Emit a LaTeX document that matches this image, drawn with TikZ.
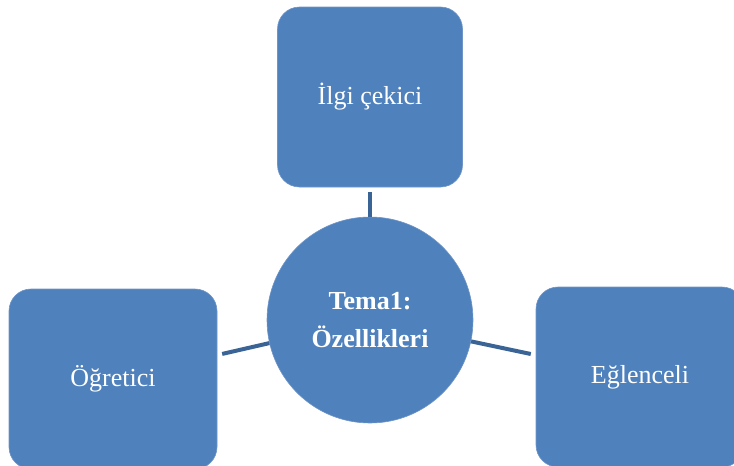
\documentclass[tikz,border=0pt]{standalone}
\usepackage{fontspec}
\setmainfont{Liberation Serif}
\definecolor{boxblue}{HTML}{4F81BD}
\definecolor{boxedge}{HTML}{6F95C8}
\definecolor{linkblue}{HTML}{3B6496}
\begin{document}
\begin{tikzpicture}[x=1pt,y=-1pt,
  item/.style={rectangle,rounded corners=22pt,fill=boxblue,draw=boxedge,line width=0.6pt,
    text=white,minimum height=180pt,inner sep=0pt,font=\fontsize{26}{38}\selectfont},
  theme/.style={circle,fill=boxblue,draw=boxedge,line width=0.6pt,text=white,
    minimum size=206pt,inner sep=0pt,align=center,font=\bfseries\fontsize{26}{38}\selectfont},
  link/.style={linkblue,line width=4pt,shorten >=5pt}]
\clip (0,0) rectangle (734,466);
% centre and the three boxes
\node[theme] (tema) at (370,320) {Tema1:\\Özellikleri};
\node[item,minimum width=185pt] (ilgi) at (370,97) {İlgi çekici};
\node[item,minimum width=208pt] (ogretici) at (113,379) {Öğretici};
\node[item,minimum width=208pt] (eglenceli) at (640,377) {Eğlenceli};
% links
\draw[link] (tema) -- (ilgi);
\draw[link] (tema) -- (ogretici);
\draw[link] (tema) -- (eglenceli);
\end{tikzpicture}
\end{document}
